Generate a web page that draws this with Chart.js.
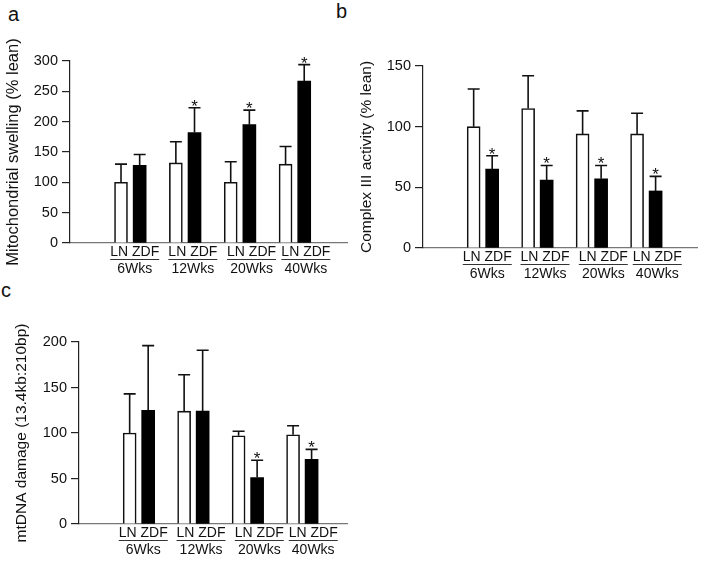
<!DOCTYPE html>
<html>
<head>
<meta charset="utf-8">
<script src="https://cdn.jsdelivr.net/npm/chart.js@4.4.1/dist/chart.umd.min.js"></script>
<style>
  body { margin: 0; background: #fff; width: 704px; height: 562px; position: relative; overflow: hidden;
         font-family: "Liberation Sans", Arial, sans-serif; color: #111; }
  canvas { position: absolute; }
  .tag { position: absolute; font-size: 20px; line-height: 20px; }
</style>
</head>
<body>
<div class="tag" style="left:8px;top:4px">a</div>
<div class="tag" style="left:336px;top:1px">b</div>
<div class="tag" style="left:1px;top:280px">c</div>
<canvas id="chartA" width="352" height="285" style="left:0;top:0"></canvas>
<canvas id="chartB" width="352" height="290" style="left:352px;top:0"></canvas>
<canvas id="chartC" width="352" height="277" style="left:0;top:285px"></canvas>
<script>
// groups on the x axis
const weeks = ['6Wks', '12Wks', '20Wks', '40Wks'];
const groupLabel = 'LN ZDF';

// a: mitochondrial swelling (% lean), mean and error size
const swellLN = [100, 132, 100, 130];
const swellLNErr = [30, 35, 34, 29];
const swellZDF = [128, 182, 195, 267];
const swellZDFErr = [18, 41, 24, 27];
const swellStars = [false, true, true, true];

// b: complex III activity (% lean)
const c3LN = [100, 115, 94, 94];
const c3LNErr = [31, 27, 19, 17];
const c3ZDF = [65, 56, 57, 47];
const c3ZDFErr = [11, 12, 11, 12];
const c3Stars = [true, true, true, true];

// c: mtDNA damage (13.4kb:210bp)
const dnaLN = [100, 124, 97, 98];
const dnaLNErr = [43, 40, 5, 10];
const dnaZDF = [125, 124, 51, 71];
const dnaZDFErr = [71, 67, 19, 11];
const dnaStars = [false, false, true, true];

const FONT = '"Liberation Sans", Arial, sans-serif';
const INK = '#111';

// error bars, asterisks and the underline under "LN ZDF"
const extras = {
  id: 'extras',
  afterDatasetsDraw(chart) {
    const ctx = chart.ctx;
    const y = chart.scales.y;
    chart.data.datasets.forEach((ds, i) => {
      chart.getDatasetMeta(i).data.forEach((bar, j) => {
        const top = y.getPixelForValue(ds.data[j].y + ds.errors[j]);
        ctx.save();
        ctx.strokeStyle = INK;
        ctx.lineWidth = 1.6;
        ctx.beginPath();
        ctx.moveTo(bar.x, bar.y);
        ctx.lineTo(bar.x, top);
        ctx.moveTo(bar.x - 6, top);
        ctx.lineTo(bar.x + 6, top);
        ctx.stroke();
        if (ds.stars && ds.stars[j]) {
          ctx.fillStyle = INK;
          ctx.font = '17px ' + FONT;
          ctx.textAlign = 'center';
          ctx.textBaseline = 'alphabetic';
          ctx.fillText('*', bar.x, top + 4);
        }
        ctx.restore();
      });
    });
  },
  afterDraw(chart) {
    const ctx = chart.ctx;
    const x = chart.scales.x;
    ctx.save();
    ctx.font = '14px ' + FONT;
    const w = ctx.measureText(groupLabel).width;
    ctx.strokeStyle = '#333';
    ctx.lineWidth = 1;
    x.ticks.forEach(t => {
      const px = x.getPixelForValue(t.value);
      ctx.beginPath();
      ctx.moveTo(px - w / 2, x.top + 16.5);
      ctx.lineTo(px + w / 2, x.top + 16.5);
      ctx.stroke();
    });
    ctx.restore();
  }
};

function makePanel(id, cfg) {
  // bar groups sit one unit apart; the labels under them drift a little to the right
  const centers = weeks.map((w, i) => 1.1 + i);
  const labelAt = [1.18, 2.24, 3.31, 4.30];
  const lnData = cfg.ln.map((v, i) => ({ x: centers[i] - 0.17, y: v }));
  const zdfData = cfg.zdf.map((v, i) => ({ x: centers[i] + 0.17, y: v }));
  return new Chart(document.getElementById(id), {
    type: 'bar',
    data: {
      datasets: [
        { label: 'LN', data: lnData, errors: cfg.lnErr, backgroundColor: '#fff',
          borderColor: INK, borderWidth: 1.6 },
        { label: 'ZDF', data: zdfData, errors: cfg.zdfErr, stars: cfg.stars,
          backgroundColor: '#000', borderColor: '#000', borderWidth: 0 }
      ]
    },
    options: {
      responsive: false,
      animation: false,
      grouped: false,
      barThickness: 13,
      layout: { padding: { left: 0, right: cfg.padRight, top: cfg.padTop, bottom: 0 } },
      plugins: { legend: { display: false }, tooltip: { enabled: false } },
      scales: {
        x: {
          type: 'linear',
          offset: false,
          min: 0,
          max: cfg.xMax,
          afterBuildTicks: s => { s.ticks = labelAt.map(v => ({ value: v })); },
          afterFit: s => { s.height = cfg.xHeight; },
          grid: { display: false, drawTicks: false },
          border: { display: true, color: '#777', width: 1.2 },
          ticks: {
            autoSkip: false, maxRotation: 0, padding: 1,
            color: INK,
            font: { family: FONT, size: 14, lineHeight: 1.2 },
            callback: (v, i) => [groupLabel, weeks[i]]
          }
        },
        y: {
          min: 0,
          max: cfg.yMax,
          afterFit: s => { s.width = cfg.yWidth; },
          ticks: { stepSize: 50, padding: 4, color: INK, font: { family: FONT, size: 14.5 } },
          grid: { drawOnChartArea: false, drawTicks: true, tickLength: 8, color: '#222', lineWidth: 1.2 },
          border: { display: true, color: '#222', width: 1.2 },
          title: { display: true, text: cfg.title, color: INK, padding: { top: cfg.titlePad, bottom: 0 },
                   font: { family: FONT, size: cfg.titleSize } }
        }
      }
    },
    plugins: [extras]
  });
}

makePanel('chartA', {
  ln: swellLN, lnErr: swellLNErr, zdf: swellZDF, zdfErr: swellZDFErr, stars: swellStars,
  title: 'Mitochondrial swelling (% lean)', yMax: 300, xMax: 5.05, titleSize: 16.5,
  yWidth: 70, xHeight: 42, padTop: 61, padRight: 5, titlePad: 4
});

makePanel('chartB', {
  ln: c3LN, lnErr: c3LNErr, zdf: c3ZDF, zdfErr: c3ZDFErr, stars: c3Stars,
  title: 'Complex III activity (% lean)', yMax: 150, xMax: 5.03, titleSize: 15.5,
  yWidth: 71, xHeight: 42, padTop: 66, padRight: 7, titlePad: 5
});

makePanel('chartC', {
  ln: dnaLN, lnErr: dnaLNErr, zdf: dnaZDF, zdfErr: dnaZDFErr, stars: dnaStars,
  title: 'mtDNA damage (13.4kb:210bp)', yMax: 200, xMax: 4.92, titleSize: 15.5,
  yWidth: 79, xHeight: 38, padTop: 57, padRight: 5, titlePad: 12
});
</script>
</body>
</html>
